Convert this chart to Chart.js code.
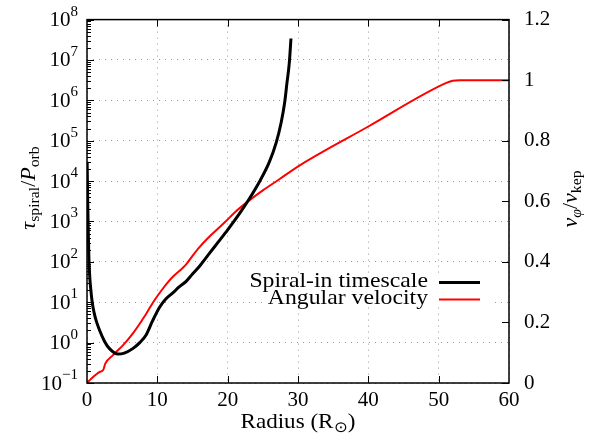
<!DOCTYPE html>
<html>
<head>
<meta charset="utf-8">
<script src="https://cdn.jsdelivr.net/npm/chart.js@4/dist/chart.umd.min.js"></script>
<style>
  html, body { margin: 0; padding: 0; background: #fff; }
  #wrap { width: 595px; height: 437px; }
</style>
</head>
<body>
<div id="wrap"><canvas id="chart" width="595" height="437"></canvas></div>
<script>
// valores
const radiusSpiral = [0.02, 0.1, 0.18, 0.26, 0.4, 0.55, 0.74, 1.0, 1.3, 1.8, 2.5, 3.2, 4.4, 5.3, 6.5, 7.5, 8.4, 9.3, 10.3, 11.2, 12.2, 13.1, 14.1, 15.0, 16.0, 17.4, 18.7, 20.0, 21.7, 23.1, 24.5, 25.9, 26.9, 27.6, 28.1, 28.43, 28.76, 29.0];
const spiralTime = [3e4, 3.2e3, 560, 140, 40, 20, 10, 5.6, 3.5, 2.0, 1.07, 0.71, 0.52, 0.55, 0.71, 1.0, 1.55, 3.4, 7.4, 12, 17, 24, 33, 50, 78, 162, 316, 620, 1580, 3700, 9500, 2.9e4, 9e4, 2.8e5, 8.7e5, 2.7e6, 8.3e6, 3.4e7];

const radiusOmega = [0, 0.5, 1.8, 2.3, 2.6, 3.7, 5.1, 6.5, 8.4, 9.5, 10.5, 11.4, 12.2, 13.6, 14.1, 15.0, 16.0, 17.0, 18.4, 19.7, 21.0, 22.8, 25.0, 27.3, 30.2, 40.0, 51.0, 52.0, 53.0, 60.0];
const omegaRatio = [0, 0.012, 0.037, 0.043, 0.064, 0.092, 0.124, 0.163, 0.228, 0.27, 0.303, 0.33, 0.351, 0.38, 0.392, 0.42, 0.449, 0.474, 0.505, 0.533, 0.563, 0.598, 0.636, 0.672, 0.718, 0.847, 0.99, 0.998, 1.0, 1.0];

const xTicks = [0, 10, 20, 30, 40, 50, 60];
const leftExponents = [-1, 0, 1, 2, 3, 4, 5, 6, 7, 8];
const rightTicks = [0, 0.2, 0.4, 0.6, 0.8, 1.0, 1.2];
const seriesLabels = ['Spiral-in timescale', 'Angular velocity'];
const seriesColors = ['#000000', '#ff0000'];

const FONT = 'Liberation Serif';

// desenha pedaços de texto (com índices) numa linha de base
function drawRuns(ctx, runs, x, y, angle, stretch) {
  ctx.save();
  ctx.translate(x, y);
  ctx.rotate(angle);
  ctx.scale(stretch, 1);
  let total = 0;
  runs.forEach(r => { ctx.font = r.f; r.w = ctx.measureText(r.t).width; total += r.w; });
  let cx = -total / 2;
  ctx.textBaseline = 'alphabetic';
  ctx.textAlign = 'left';
  ctx.fillStyle = '#000';
  runs.forEach(r => { ctx.font = r.f; ctx.fillText(r.t, cx, r.dy || 0); cx += r.w; });
  ctx.restore();
}

const framePlugin = {
  id: 'frame',
  afterDraw(chart) {
    const ctx = chart.ctx;
    const a = chart.chartArea;
    const sx = chart.scales.x, sy = chart.scales.y, sy2 = chart.scales.y2;
    ctx.save();
    ctx.strokeStyle = '#000';
    ctx.lineWidth = 1;
    ctx.beginPath();
    // ticks do eixo x (embaixo e em cima)
    xTicks.slice(1, -1).forEach(v => {
      const px = Math.round(sx.getPixelForValue(v)) + 0.5;
      ctx.moveTo(px, a.bottom); ctx.lineTo(px, a.bottom - 7);
      ctx.moveTo(px, a.top); ctx.lineTo(px, a.top + 7);
    });
    // ticks log à esquerda
    leftExponents.forEach(e => {
      const py = Math.round(sy.getPixelForValue(Math.pow(10, e))) + 0.5;
      ctx.moveTo(a.left, py); ctx.lineTo(a.left + 7, py);
      if (e < 8) {
        for (let k = 2; k <= 9; k++) {
          const pm = Math.round(sy.getPixelForValue(k * Math.pow(10, e))) + 0.5;
          ctx.moveTo(a.left, pm); ctx.lineTo(a.left + 4, pm);
        }
      }
    });
    // ticks à direita
    rightTicks.forEach(v => {
      const py = Math.round(sy2.getPixelForValue(v)) + 0.5;
      ctx.moveTo(a.right, py); ctx.lineTo(a.right - 7, py);
    });
    ctx.stroke();
    // moldura
    ctx.lineWidth = 1.5;
    ctx.strokeRect(a.left, a.top, a.right - a.left, a.bottom - a.top);

    // rótulos 10^n
    ctx.fillStyle = '#000';
    ctx.textBaseline = 'middle';
    leftExponents.forEach(e => {
      const py = sy.getPixelForValue(Math.pow(10, e));
      const exp = e < 0 ? '\u2212' + (-e) : String(e);
      ctx.font = '15px "' + FONT + '"';
      const we = ctx.measureText(exp).width;
      ctx.textAlign = 'left';
      const right = a.left - 9;
      ctx.fillText(exp, right - we, py - 8);
      ctx.font = '21px "' + FONT + '"';
      ctx.textAlign = 'right';
      ctx.fillText('10', right - we, py + 1);
    });

    // títulos dos eixos
    const big = '21px "' + FONT + '"', bigI = 'italic 21px "' + FONT + '"', small = '15px "' + FONT + '"', smallI = 'italic 15px "' + FONT + '"';
    drawRuns(ctx, [
      { t: 'Radius (R', f: big },
      { t: '\u2299', f: small, dy: 4 },
      { t: ')', f: big }
    ], (a.left + a.right) / 2, 428, 0, 1.1);
    drawRuns(ctx, [
      { t: '\u03c4', f: bigI },
      { t: 'spiral', f: small, dy: 4 },
      { t: '/', f: big },
      { t: 'P', f: bigI },
      { t: 'orb', f: small, dy: 4 }
    ], 35, 188, -Math.PI / 2, 1.05);
    drawRuns(ctx, [
      { t: 'v', f: bigI },
      { t: '\u03c6', f: smallI, dy: 4 },
      { t: '/', f: big },
      { t: 'v', f: bigI },
      { t: 'kep', f: small, dy: 4 }
    ], 577, 199, -Math.PI / 2, 1.05);

    // legenda
    ctx.fillStyle = '#fff';
    ctx.fillRect(263, 273, 230, 32);
    const rows = [282.5, 299.5];
    seriesLabels.forEach((lab, i) => {
      ctx.save();
      ctx.font = '21px "' + FONT + '"';
      ctx.fillStyle = '#000';
      ctx.textAlign = 'right';
      ctx.textBaseline = 'alphabetic';
      ctx.translate(428, rows[i] + 4);
      ctx.scale(1.13, 1);
      ctx.fillText(lab, 0, 0);
      ctx.restore();
      ctx.strokeStyle = seriesColors[i];
      ctx.lineWidth = i === 0 ? 3 : 2;
      ctx.beginPath();
      ctx.moveTo(439, rows[i]); ctx.lineTo(480, rows[i]);
      ctx.stroke();
    });
    ctx.restore();
  }
};

const gridOpts = { color: '#9a9a9a', lineWidth: 1, drawTicks: false };
const borderOpts = { display: false, dash: [1, 5] };

new Chart(document.getElementById('chart'), {
  type: 'scatter',
  data: {
    datasets: [
      {
        label: seriesLabels[0],
        data: radiusSpiral.map((r, i) => ({ x: r, y: spiralTime[i] })),
        yAxisID: 'y',
        showLine: true,
        borderColor: seriesColors[0],
        borderWidth: 3,
        pointRadius: 0,
        cubicInterpolationMode: 'monotone'
      },
      {
        label: seriesLabels[1],
        data: radiusOmega.map((r, i) => ({ x: r, y: omegaRatio[i] })),
        yAxisID: 'y2',
        showLine: true,
        borderColor: seriesColors[1],
        borderWidth: 2,
        pointRadius: 0,
        cubicInterpolationMode: 'monotone'
      }
    ]
  },
  options: {
    responsive: false,
    animation: false,
    layout: { padding: { top: 16, left: 0, right: 0, bottom: 0 } },
    plugins: { legend: { display: false }, tooltip: { enabled: false } },
    scales: {
      x: {
        type: 'linear', min: 0, max: 60,
        afterBuildTicks: s => { s.ticks = xTicks.map(v => ({ value: v })); },
        afterFit: s => { s.height = 54; },
        ticks: { color: '#000', font: { family: FONT, size: 21 }, padding: 5, maxRotation: 0 },
        grid: gridOpts, border: borderOpts
      },
      y: {
        type: 'logarithmic', position: 'left', min: 0.1, max: 1e8,
        afterBuildTicks: s => { s.ticks = leftExponents.map(e => ({ value: Math.pow(10, e) })); },
        afterFit: s => { s.width = 87; },
        ticks: { display: false },
        grid: gridOpts, border: borderOpts
      },
      y2: {
        type: 'linear', position: 'right', min: 0, max: 1.2,
        afterBuildTicks: s => { s.ticks = rightTicks.map(v => ({ value: v })); },
        afterFit: s => { s.width = 86; },
        ticks: { color: '#000', font: { family: FONT, size: 21 }, padding: 7, callback: v => String(Math.round(v * 10) / 10) },
        grid: { display: false }, border: { display: false }
      }
    }
  },
  plugins: [framePlugin]
});
</script>
</body>
</html>
